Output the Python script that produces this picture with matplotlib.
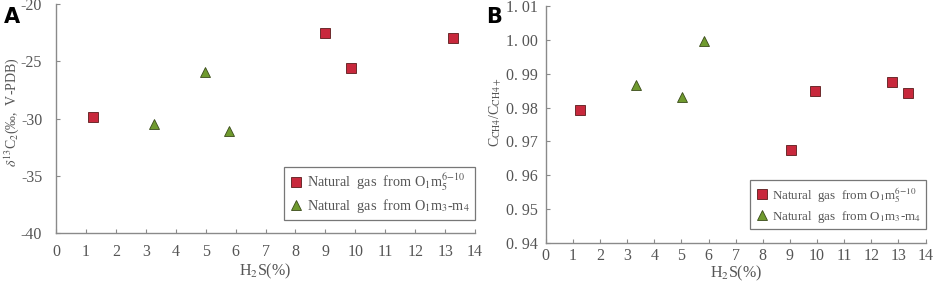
import matplotlib
matplotlib.use("Agg")
import matplotlib.pyplot as plt
from matplotlib.ticker import FixedLocator, FuncFormatter

# panel A: d13C2 vs H2S
a_sq_x = [1.25, 9.0, 9.87, 13.25]
a_sq_y = [-29.9, -22.5, -25.55, -22.95]
a_tri_x = [3.28, 4.98, 5.78]
a_tri_y = [-30.5, -25.95, -31.05]

# panel B: CCH4/CCH4+ vs H2S
b_sq_x = [1.26, 9.05, 9.92, 12.75, 13.34]
b_sq_y = [0.9793, 0.9675, 0.9850, 0.9874, 0.9844]
b_tri_x = [3.33, 5.02, 5.84]
b_tri_y = [0.9867, 0.9830, 0.9996]

x_ticks = list(range(0, 15))
a_yticks = [-40, -35, -30, -25, -20]
b_yticks = [0.94, 0.95, 0.96, 0.97, 0.98, 0.99, 1.00, 1.01]

lab1 = r'Natural  gas  from O$_1$m$_5^{6\mathrm{-}10}$'
lab2 = r'Natural  gas  from O$_1$m$_3$-m$_4$'

plt.rcParams['font.family'] = 'Liberation Serif'
plt.rcParams['mathtext.fontset'] = 'stix'
plt.rcParams['axes.unicode_minus'] = False

txt = '#555555'
spine_c = '#8a8a8a'
red = '#c8283c'
green = '#6f9a2e'

fig = plt.figure(figsize=(9.34, 2.82), dpi=100)
axA = fig.add_axes([0.060, 0.174, 0.4486, 0.811])
axB = fig.add_axes([0.5843, 0.137, 0.4067, 0.843])


def style(ax):
    for s in ['top', 'right']:
        ax.spines[s].set_visible(False)
    for s in ['left', 'bottom']:
        ax.spines[s].set_color(spine_c)
        ax.spines[s].set_linewidth(1.0)
    ax.tick_params(direction='in', length=3, width=0.8, color=spine_c,
                   labelcolor=txt, labelsize=11.5)
    ax.xaxis.set_major_locator(FixedLocator(x_ticks))
    ax.set_xlim(0, 14)


def draw(ax, sx, sy, tx, ty):
    ax.plot(sx, sy, ls='none', marker='s', ms=6.5, mfc=red, mec='#5a1a1a',
            mew=0.6, label=lab1, clip_on=False)
    ax.plot(tx, ty, ls='none', marker='^', ms=7, mfc=green, mec='#3a4a1a',
            mew=0.6, label=lab2, clip_on=False)


def legend(ax, y0, fs):
    leg = ax.legend(loc='lower right', bbox_to_anchor=(1.0, y0), frameon=True,
                    fancybox=False, edgecolor='#555555', fontsize=fs,
                    handletextpad=0.3, borderpad=0.35, labelspacing=0.3,
                    handlelength=1.0, borderaxespad=0.0, labelcolor=txt)
    leg.get_frame().set_linewidth(0.9)


style(axA)
draw(axA, a_sq_x, a_sq_y, a_tri_x, a_tri_y)
axA.set_ylim(-40, -20)
axA.yaxis.set_major_locator(FixedLocator(a_yticks))
axA.tick_params(axis='x', pad=8)
axA.tick_params(axis='y', pad=10)
axA.set_xlabel('H$_2$S(%)', color=txt, fontsize=11.5)
axA.xaxis.set_label_coords(0.5, -0.128)
axA.set_ylabel(r'$\delta^{13}$C$_2$(‰,  V-PDB)', color=txt, fontsize=10)
axA.yaxis.set_label_coords(-0.083, 0.53)
legend(axA, 0.055, 10.3)

style(axB)
draw(axB, b_sq_x, b_sq_y, b_tri_x, b_tri_y)
axB.set_ylim(0.94, 1.01)
axB.yaxis.set_major_locator(FixedLocator(b_yticks))
axB.yaxis.set_major_formatter(FuncFormatter(lambda v, p: '{:.2f}'.format(v).replace('.', '. ')))
axB.tick_params(axis='x', pad=3)
axB.tick_params(axis='y', pad=6)
axB.set_xlabel('H$_2$S(%)', color=txt, fontsize=11.5)
axB.xaxis.set_label_coords(0.5, -0.085)
axB.set_ylabel(r'C$_{\mathrm{CH4}}$/C$_{\mathrm{CH4+}}$', color=txt, fontsize=10)
axB.yaxis.set_label_coords(-0.11, 0.55)
legend(axB, 0.06, 9.4)

fig.text(0.004, 0.975, 'A', fontsize=15, fontweight='bold', family='DejaVu Sans',
         va='top', ha='left')
fig.text(0.520, 0.975, 'B', fontsize=15, fontweight='bold', family='DejaVu Sans',
         va='top', ha='left')

fig.savefig('out.png', dpi=100)
